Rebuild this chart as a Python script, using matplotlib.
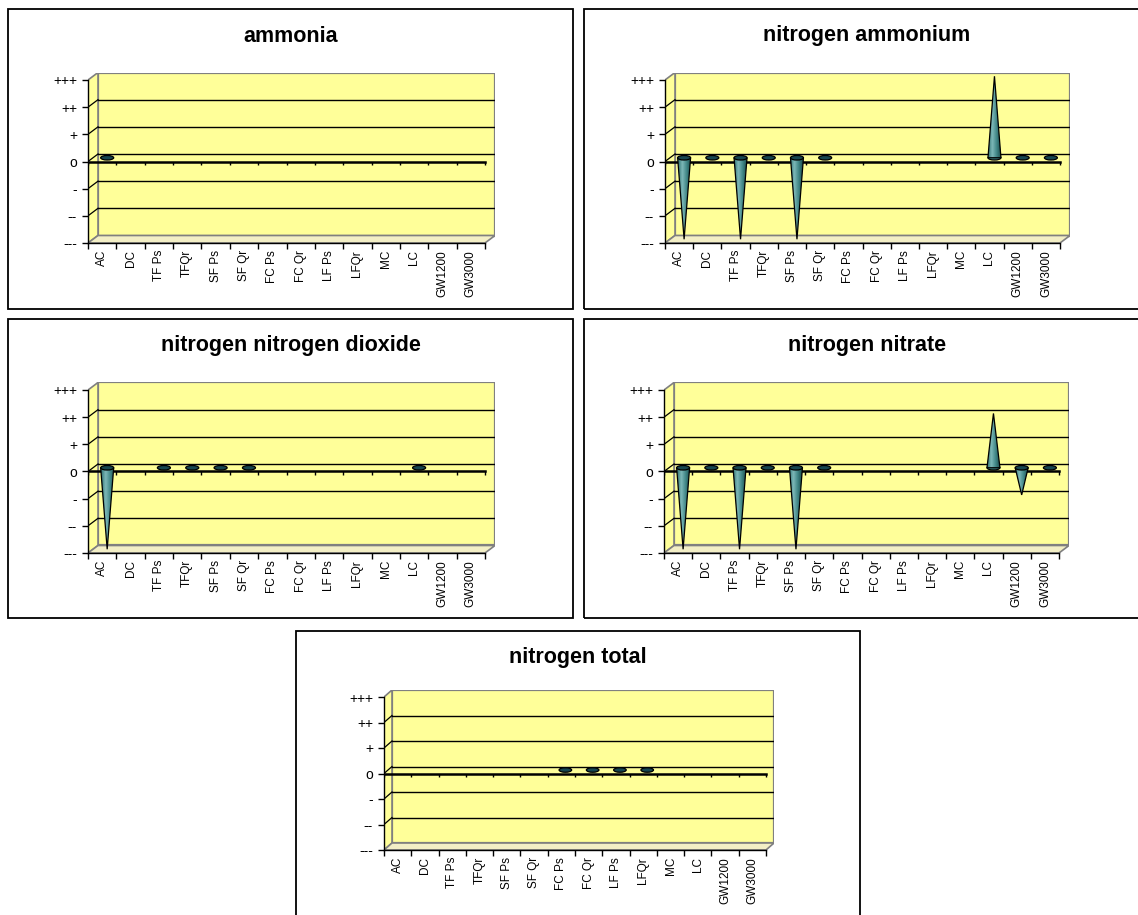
import numpy as np
import matplotlib
matplotlib.use("Agg")
import matplotlib.pyplot as plt
from matplotlib.patches import Polygon, Rectangle, Ellipse
from matplotlib.colors import LinearSegmentedColormap

plt.rcParams["font.family"] = ["Liberation Sans", "DejaVu Sans"]

### data
nan = np.nan
categories = ["AC", "DC", "TF Ps", "TFQr", "SF Ps", "SF Qr", "FC Ps", "FC Qr",
              "LF Ps", "LFQr", "MC", "LC", "GW1200", "GW3000"]
level_labels = ["---", "--", "-", "o", "+", "++", "+++"]
level_values = [-3, -2, -1, 0, 1, 2, 3]

ammonia = [0, nan, nan, nan, nan, nan, nan, nan, nan, nan, nan, nan, nan, nan]
nitrogen_ammonium = [-3, 0, -3, 0, -3, 0, nan, nan, nan, nan, nan, 3, 0, 0]
nitrogen_dioxide = [-3, nan, 0, 0, 0, 0, nan, nan, nan, nan, nan, 0, nan, nan]
nitrogen_nitrate = [-3, 0, -3, 0, -3, 0, nan, nan, nan, nan, nan, 2, -1, 0]
nitrogen_total = [nan, nan, nan, nan, nan, nan, 0, 0, 0, 0, nan, nan, nan, nan]

### figure geometry (pixels)
W, H = 1138, 915
WALL = "#FFFF99"
FLOOR = "#F3EFC6"
EDGE = "#808080"
cone_cmap = LinearSegmentedColormap.from_list(
    "cone", ["#2F7272", "#7DB8B8", "#428888", "#1E5252"])
TOP_FACE = "#164650"


def fx(px):
    return px / W


def fy(py):
    return 1 - py / H


def draw_cone(ax, cx, y0, y1, w, eh):
    ''' cone with base ellipse at y0 and apex at y1 '''
    if y1 == y0:
        ax.add_patch(Ellipse((cx, y0), w, eh, fc=TOP_FACE, ec="black",
                             lw=0.9, zorder=6))
        return
    if y1 > y0:
        ax.add_patch(Ellipse((cx, y0), w, eh, fc="#3A7E7E", ec="black",
                             lw=0.9, zorder=5))
    tri = Polygon([(cx - w / 2, y0), (cx + w / 2, y0), (cx, y1)],
                  closed=True, fc="none", ec="black", lw=0.9, zorder=5.2)
    ax.add_patch(tri)
    grad = np.linspace(0, 1, 64).reshape(1, -1)
    im = ax.imshow(grad, extent=[cx - w / 2, cx + w / 2, min(y0, y1), max(y0, y1)],
                   cmap=cone_cmap, aspect="auto", zorder=5.1,
                   interpolation="bilinear")
    im.set_clip_path(tri)
    if y1 < y0:
        ax.add_patch(Ellipse((cx, y0), w, eh, fc=TOP_FACE, ec="black",
                             lw=0.9, zorder=6))


def add_panel(fig, box, plot, title, title_y, values):
    bl, bt, br, bb = box
    x0, x14, ytop, ybot, dx_px, dy_px = plot
    n = len(categories)

    # frame of the chart area
    fig.add_artist(Rectangle((fx(bl), fy(bb)), fx(br - bl), (bb - bt) / H,
                             transform=fig.transFigure, fill=False,
                             ec="black", lw=1.3))
    fig.text(fx((bl + br) / 2), fy(title_y), title, ha="center", va="center",
             fontsize=15.5, fontweight="bold")

    cat_px = (x14 - x0) / n
    unit_px = (ybot - ytop) / 6
    ddx = dx_px / cat_px
    ddy = dy_px / unit_px

    ax = fig.add_axes([fx(x0), fy(ybot), fx(x14 + dx_px - x0),
                       (ybot - ytop + dy_px) / H])
    ax.set_facecolor("none")

    # back wall
    ax.add_patch(Rectangle((ddx, -3 + ddy), n, 6, fc=WALL, ec=EDGE, lw=1.6,
                           zorder=1))
    # side wall
    ax.add_patch(Polygon([(0, -3), (ddx, -3 + ddy), (ddx, 3 + ddy), (0, 3)],
                         closed=True, fc=WALL, ec=EDGE, lw=1.2, zorder=1))
    # floor
    ax.add_patch(Polygon([(0, -3), (n, -3), (n + ddx, -3 + ddy), (ddx, -3 + ddy)],
                         closed=True, fc=FLOOR, ec=EDGE, lw=1.2, zorder=1))
    # gridlines on the walls
    for v in level_values[1:-1]:
        ax.plot([ddx, n + ddx], [v + ddy, v + ddy], color="black", lw=1.0,
                zorder=2)
        ax.plot([0, ddx], [v, v + ddy], color="black", lw=0.9, zorder=2)

    # category axis through zero
    ax.plot([0, n], [0, 0], color="black", lw=1.8, zorder=3)
    ax.vlines(np.arange(n + 1), -0.13, 0, color="black", lw=1.0, zorder=3)

    # cones
    w = 0.46
    eh = 4.5 / unit_px
    for i, v in enumerate(values):
        if np.isnan(v):
            continue
        cx = i + 0.5 + ddx / 2
        draw_cone(ax, cx, ddy / 2, v + ddy / 2, w, eh)

    # axes
    ax.set_xlim(0, n + ddx)
    ax.set_ylim(-3, 3 + ddy)
    for side in ["top", "right"]:
        ax.spines[side].set_visible(False)
    ax.spines["left"].set_bounds(-3, 3)
    ax.spines["bottom"].set_bounds(0, n)
    ax.spines["left"].set_linewidth(1.0)
    ax.spines["bottom"].set_linewidth(1.0)
    ax.spines["left"].set_zorder(3)

    ax.set_yticks(level_values)
    ax.set_yticklabels(level_labels, fontsize=10)
    ax.tick_params(axis="y", direction="out", length=4, width=1.0, pad=4)

    ax.set_xticks(np.arange(n + 1))
    ax.set_xticklabels([])
    ax.set_xticks(np.arange(n) + 0.5, minor=True)
    ax.set_xticklabels(categories, minor=True, rotation=90, fontsize=8.5)
    ax.tick_params(axis="x", which="major", direction="out", length=4, width=1.0)
    ax.tick_params(axis="x", which="minor", length=0, pad=5)
    return ax


fig = plt.figure(figsize=(W / 100, H / 100), dpi=100)
fig.patch.set_facecolor("white")

add_panel(fig, (8, 9, 573, 309), (88, 485, 80, 243, 10, 7.5),
          "ammonia", 36, ammonia)
add_panel(fig, (584, 9, 1150, 309), (665, 1060, 80, 243, 10, 7.5),
          "nitrogen ammonium", 36, nitrogen_ammonium)
add_panel(fig, (8, 319, 573, 618), (88, 485, 390, 553, 10, 7.5),
          "nitrogen nitrogen dioxide", 346, nitrogen_dioxide)
add_panel(fig, (584, 319, 1150, 618), (664, 1059, 390, 553, 10, 7.5),
          "nitrogen nitrate", 346, nitrogen_nitrate)
add_panel(fig, (296, 631, 860, 940), (384, 766, 697, 850, 8, 7),
          "nitrogen total", 657, nitrogen_total)

fig.savefig("out.png", dpi=100)
